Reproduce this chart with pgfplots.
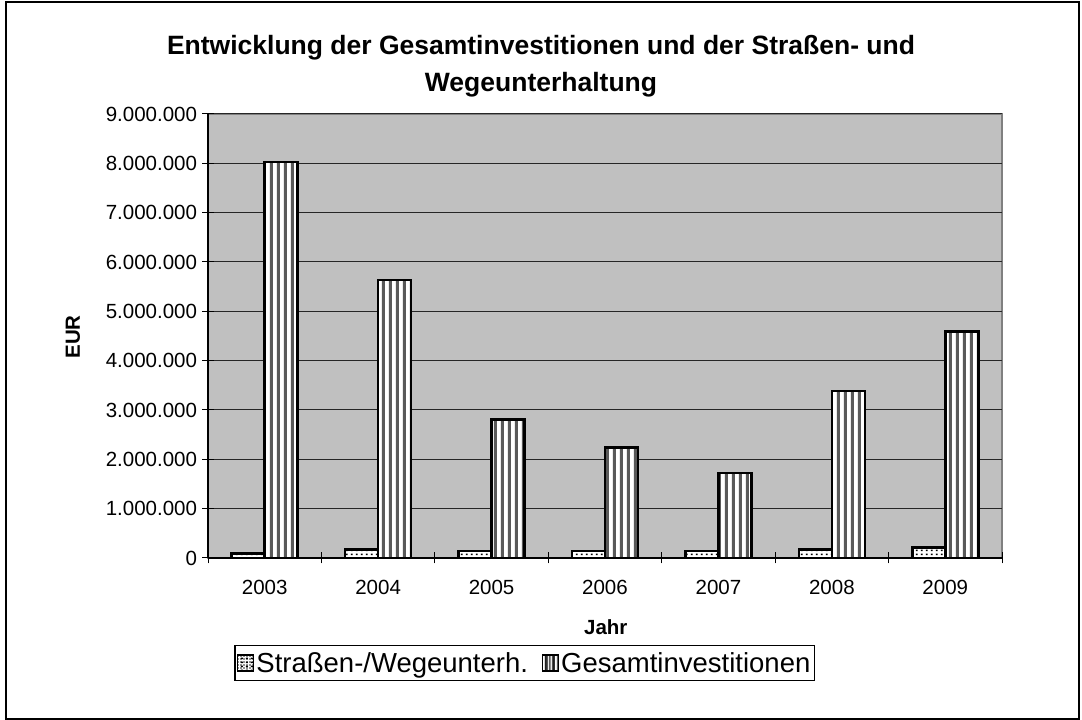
\documentclass[border=0pt]{standalone}
\usepackage{pgfplots}
\pgfplotsset{compat=1.18}
\usepackage{fontspec}
\setmainfont{Liberation Sans}
\usetikzlibrary{patterns}
\definecolor{plotgray}{RGB}{192,192,192}
\definecolor{framegray}{RGB}{128,128,128}
\pgfdeclarepatternformonly{vstripes}{\pgfpointorigin}{\pgfpoint{6.7pt}{1pt}}{\pgfpoint{6.7pt}{1pt}}{%
  \pgfpathrectangle{\pgfpoint{2pt}{0pt}}{\pgfpoint{3pt}{1pt}}\pgfusepath{fill}}
\pgfdeclarepatternformonly{sdots}{\pgfpointorigin}{\pgfpoint{5pt}{4pt}}{\pgfpoint{5pt}{4pt}}{%
  \pgfpathrectangle{\pgfpoint{1pt}{1pt}}{\pgfpoint{2.2pt}{1.8pt}}\pgfusepath{fill}}
\pgfdeclarepatternformonly{lstripes}{\pgfpointorigin}{\pgfpoint{3.6pt}{1pt}}{\pgfpoint{3.6pt}{1pt}}{%
  \pgfpathrectangle{\pgfpoint{1pt}{0pt}}{\pgfpoint{1.8pt}{1pt}}\pgfusepath{fill}}
\pgfdeclarepatternformonly{ldots}{\pgfpointorigin}{\pgfpoint{3pt}{3pt}}{\pgfpoint{3pt}{3pt}}{%
  \pgfpathrectangle{\pgfpoint{0.6pt}{0.6pt}}{\pgfpoint{1.5pt}{1.5pt}}\pgfusepath{fill}}
\begin{document}
\begin{tikzpicture}
\useasboundingbox (0pt,0pt) rectangle (1082pt,720pt);
\fill[white] (0pt,0pt) rectangle (1082pt,720pt);
\draw[black, line width=2pt] (6pt,1pt) rectangle (1079pt,718pt);
\begin{axis}[
  at={(208pt,162pt)}, anchor=south west,
  scale only axis, width=794pt, height=444pt,
  ybar=0pt, bar width=33pt,
  xmin=-0.5, xmax=6.5,
  ymin=0, ymax=9000000,
  ytick={0,1000000,...,9000000},
  scaled y ticks=false,
  /pgf/number format/fixed,
  /pgf/number format/precision=0,
  /pgf/number format/1000 sep={.},
  /pgf/number format/assume math mode=true,
  xtick={-0.5,0.5,...,6.5},
  xticklabels={},
  extra x ticks={0,1,2,3,4,5,6},
  extra x tick labels={2003,2004,2005,2006,2007,2008,2009},
  extra x tick style={major tick length=0pt, grid=none},
  x tick style={black, line width=1pt},
  y tick style={black, line width=1pt},
  xtick align=center, ytick align=outside,
  major tick length=11pt,
  ymajorgrids, major grid style={black!85, line width=1pt},
  axis x line=bottom, axis y line=left,
  axis line style={-, black, line width=1.5pt},
  axis background/.style={fill=plotgray, draw=framegray, line width=2pt},
  ticklabel style={font=\fontsize{20.5}{24}\selectfont},
  xticklabel style={yshift=-19pt},
  yticklabel style={xshift=-2pt},
  title={Entwicklung der Gesamtinvestitionen und der Straßen- und\\Wegeunterhaltung},
  title style={at={(0.4194,1.0935)}, anchor=center, align=center, font=\fontsize{26.5}{37}\selectfont\bfseries},
  ylabel={EUR},
  ylabel style={at={(-0.170,0.498)}, anchor=center, font=\fontsize{20.5}{24}\selectfont\bfseries},
  xlabel={Jahr},
  xlabel style={at={(0.501,-0.155)}, anchor=center, font=\fontsize{20.5}{24}\selectfont\bfseries},
  legend columns=2,
  legend style={at={(0.399,-0.2365)}, anchor=center, draw=black, line width=1.5pt, fill=white,
    font=\fontsize{27.5}{30}\selectfont, inner xsep=2pt, inner ysep=5pt,
    /tikz/every even column/.append style={column sep=12pt}},
  legend cell align=left,
]
\addplot[draw=black, line width=2.5pt, fill=white, postaction={pattern=sdots},
  legend image code/.code={\draw[black, line width=1.2pt, fill=white, postaction={pattern=ldots}] (2pt,-8pt) rectangle (18pt,8pt);}]
  coordinates {(0,95000) (1,175000) (2,140000) (3,140000) (4,145000) (5,175000) (6,210000)};
\addplot[draw=black, line width=2.5pt, fill=white, postaction={pattern=vstripes},
  legend image code/.code={\draw[black, line width=1.2pt, fill=white, postaction={pattern=lstripes}] (2pt,-8pt) rectangle (18pt,8pt);}]
  coordinates {(0,8030000) (1,5630000) (2,2810000) (3,2240000) (4,1720000) (5,3390000) (6,4590000)};
\legend{Straßen-/Wegeunterh.,Gesamtinvestitionen}
\end{axis}
\end{tikzpicture}
\end{document}
